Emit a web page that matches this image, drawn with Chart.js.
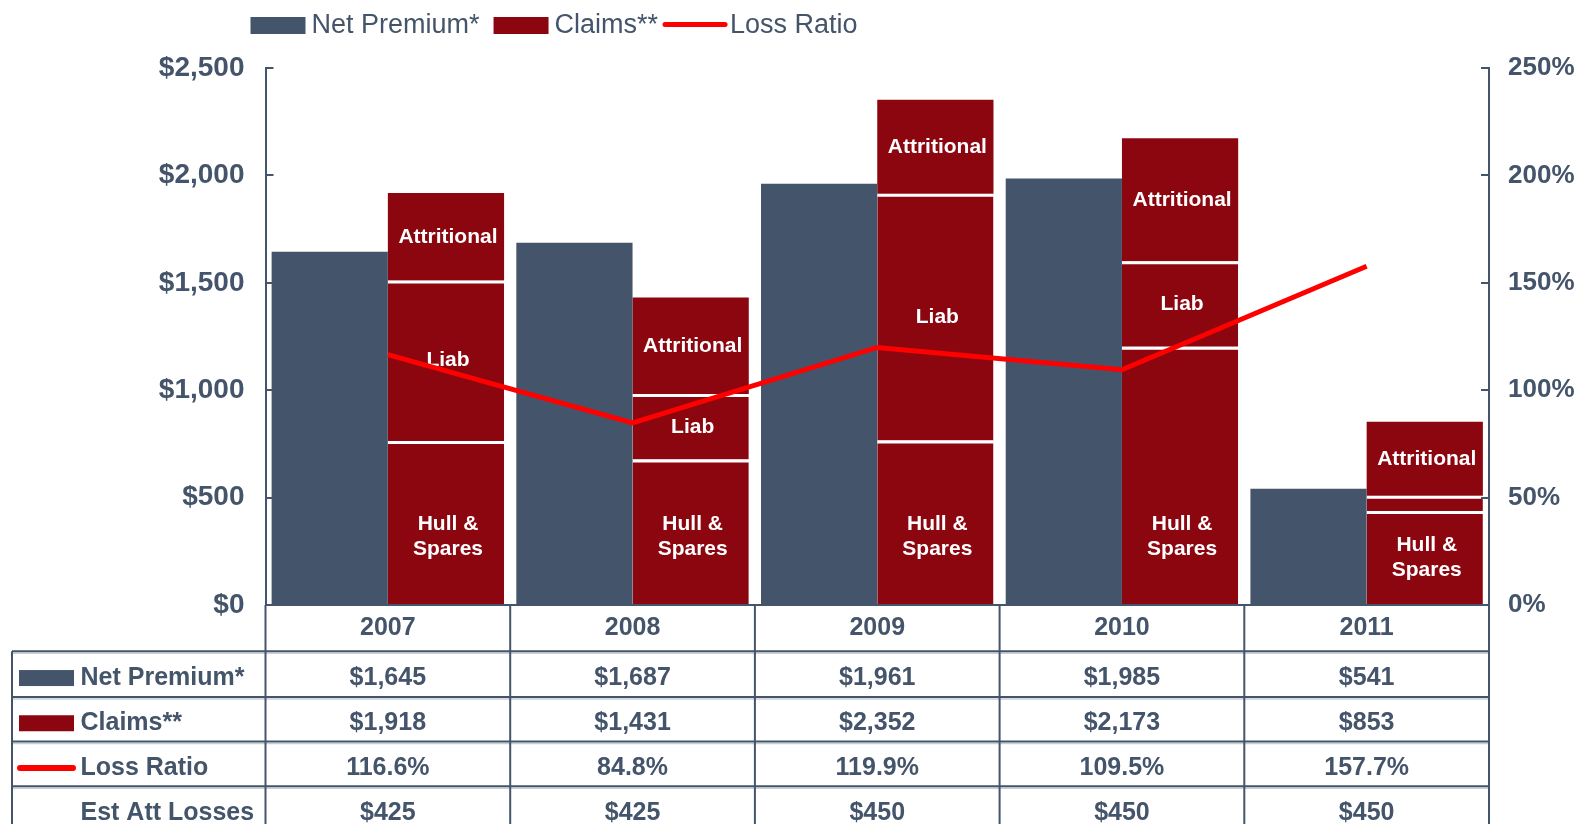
<!DOCTYPE html>
<html>
<head>
<meta charset="utf-8">
<script src="https://cdn.jsdelivr.net/npm/chart.js@4.4.1/dist/chart.umd.min.js"></script>
<style>
  html, body { margin: 0; padding: 0; background: #fff; }
  #wrap { position: relative; width: 1577px; height: 824px; }
</style>
</head>
<body>
<div id="wrap"><canvas id="lossChart"></canvas></div>
<script>
// Data
const years = ['2007', '2008', '2009', '2010', '2011'];
const netPremium = [1645, 1687, 1961, 1985, 541];
const claims = [1918, 1431, 2352, 2173, 853];
const hullSpares = [764, 677, 766, 1202, 438];
const liab = [747, 305, 1148, 398, 71];
const attritional = [407, 449, 438, 573, 344];
const lossRatio = [116.6, 84.8, 119.9, 109.5, 157.7];
const estAttLosses = [425, 425, 450, 450, 450];

const slate = '#44546A';
const claimRed = '#8C0610';
const lineRed = '#FF0000';
const fontFamily = '"Liberation Sans", Arial, sans-serif';

const money = v => '$' + v.toLocaleString('en-US');

// labels inside claims bars, table and legend
const extras = {
    id: 'extras',
    beforeDatasetDraw(chart, args) {
        if (args.meta.type !== 'line') return;
        const ctx = chart.ctx;
        ctx.save();
        ctx.fillStyle = '#fff';
        ctx.font = 'bold 21px ' + fontFamily;
        ctx.textAlign = 'center';
        ctx.textBaseline = 'middle';
        chart.data.datasets.forEach((ds, di) => {
            if (!ds.segLabel) return;
            chart.getDatasetMeta(di).data.forEach(bar => {
                const p = bar.getProps(['x', 'y', 'base'], true);
                const h = p.base - p.y;
                if (h < 30) return;
                const lines = ds.segLabel.split('\n');
                const cy = lines.length > 1 ? p.base - Math.min(68, h / 2) : (p.y + p.base) / 2;
                lines.forEach((t, i) => {
                    ctx.fillText(t, p.x + 2, cy + (i - (lines.length - 1) / 2) * 25);
                });
            });
        });
        ctx.restore();
    },
    afterDraw(chart) {
        const ctx = chart.ctx;
        const ca = chart.chartArea;
        const xs = chart.scales.x;
        const colW = (ca.right - ca.left) / years.length;
        ctx.save();

        // inward tick marks
        ctx.strokeStyle = slate;
        ctx.lineWidth = 2;
        chart.scales.y.ticks.forEach(t => {
            const py = Math.round(chart.scales.y.getPixelForValue(t.value));
            ctx.beginPath(); ctx.moveTo(ca.left, py); ctx.lineTo(ca.left + 8, py); ctx.stroke();
        });
        chart.scales.y1.ticks.forEach(t => {
            const py = Math.round(chart.scales.y1.getPixelForValue(t.value));
            ctx.beginPath(); ctx.moveTo(ca.right - 8, py); ctx.lineTo(ca.right, py); ctx.stroke();
        });

        // legend
        ctx.font = '27px ' + fontFamily;
        ctx.textBaseline = 'middle';
        ctx.textAlign = 'left';
        let lx = 250.5;
        const ly = 26;
        [['Net Premium*', 'box', slate], ['Claims**', 'box', claimRed], ['Loss Ratio', 'line', lineRed]].forEach(item => {
            if (item[1] === 'box') {
                ctx.fillStyle = item[2];
                ctx.fillRect(lx, 17, 55, 17);
                lx += 61;
            } else {
                lx -= 10;
                ctx.strokeStyle = item[2];
                ctx.lineWidth = 5;
                ctx.lineCap = 'round';
                ctx.beginPath(); ctx.moveTo(lx + 3, 24.5); ctx.lineTo(lx + 63, 24.5); ctx.stroke();
                lx += 68;
            }
            ctx.fillStyle = slate;
            ctx.fillText(item[0], lx, ly);
            lx += ctx.measureText(item[0]).width + 14;
        });

        // table
        const top = ca.bottom;
        const rowH = 45.2;
        const tableLeft = 12;
        const bottom = 830;
        const rowTops = [top, top + rowH + 1, top + 2 * rowH + 1.5, top + 3 * rowH + 1, top + 4 * rowH + 0.5];

        ctx.lineCap = 'butt';
        // shadow lines
        ctx.strokeStyle = '#C8CDD6';
        ctx.lineWidth = 1.5;
        rowTops.slice(1).forEach(ry => {
            ctx.beginPath(); ctx.moveTo(tableLeft, ry + 2); ctx.lineTo(ca.right, ry + 2); ctx.stroke();
        });
        ctx.strokeStyle = slate;
        ctx.lineWidth = 2;
        rowTops.forEach((ry, i) => {
            ctx.beginPath();
            ctx.moveTo(i === 0 ? ca.left : tableLeft, ry);
            ctx.lineTo(ca.right, ry);
            ctx.stroke();
        });
        ctx.beginPath(); ctx.moveTo(tableLeft, rowTops[1]); ctx.lineTo(tableLeft, bottom); ctx.stroke();
        for (let k = 0; k <= years.length; k++) {
            const vx = ca.left + k * colW;
            ctx.beginPath(); ctx.moveTo(vx, top); ctx.lineTo(vx, bottom); ctx.stroke();
        }

        const rows = [
            years,
            netPremium.map(money),
            claims.map(money),
            lossRatio.map(v => v.toFixed(1) + '%'),
            estAttLosses.map(money)
        ];
        ctx.font = 'bold 25px ' + fontFamily;
        ctx.fillStyle = slate;
        ctx.textAlign = 'center';
        rows.forEach((row, r) => {
            const cy = (rowTops[r] + (rowTops[r + 1] || rowTops[r] + rowH)) / 2 + (r === 0 ? 0 : 4);
            row.forEach((txt, i) => ctx.fillText(txt, xs.getPixelForValue(i), cy));
        });

        // row headers
        const heads = [['Net Premium*', 'box', slate], ['Claims**', 'box', claimRed], ['Loss Ratio', 'line', lineRed], ['Est Att Losses', null]];
        ctx.textAlign = 'left';
        heads.forEach((hd, r) => {
            const cy = (rowTops[r + 1] + (rowTops[r + 2] || rowTops[r + 1] + rowH)) / 2 + 4;
            if (hd[1] === 'box') {
                ctx.fillStyle = hd[2];
                ctx.fillRect(19, cy - 8, 55, 16);
            } else if (hd[1] === 'line') {
                ctx.strokeStyle = hd[2];
                ctx.lineWidth = 6;
                ctx.lineCap = 'round';
                ctx.beginPath(); ctx.moveTo(20, cy); ctx.lineTo(73, cy); ctx.stroke();
            }
            ctx.fillStyle = slate;
            ctx.fillText(hd[0], 80.5, cy);
        });
        ctx.restore();
    }
};

const ctx = document.getElementById('lossChart');

new Chart(ctx, {
    type: 'bar',
    data: {
        labels: years,
        datasets: [
            {
                label: 'Net Premium*',
                data: netPremium,
                backgroundColor: slate,
                stack: 'premium',
                order: 1
            },
            {
                label: 'Hull & Spares',
                segLabel: 'Hull &\nSpares',
                data: hullSpares,
                backgroundColor: claimRed,
                borderColor: '#fff',
                borderWidth: {top: 3, left: 0, right: 0, bottom: 0},
                borderSkipped: false,
                stack: 'claims',
                order: 1
            },
            {
                label: 'Liab',
                segLabel: 'Liab',
                data: liab,
                backgroundColor: claimRed,
                borderColor: '#fff',
                borderWidth: {top: 3, left: 0, right: 0, bottom: 0},
                borderSkipped: false,
                stack: 'claims',
                order: 1
            },
            {
                label: 'Attritional',
                segLabel: 'Attritional',
                data: attritional,
                backgroundColor: claimRed,
                stack: 'claims',
                order: 1
            },
            {
                type: 'line',
                label: 'Loss Ratio',
                data: lossRatio,
                yAxisID: 'y1',
                borderColor: lineRed,
                borderWidth: 5,
                pointRadius: 0,
                tension: 0,
                order: 0
            }
        ]
    },
    options: {
        responsive: true,
        maintainAspectRatio: false,
        animation: false,
        layout: {
            padding: {top: 68, bottom: 219, left: 0, right: 0}
        },
        datasets: {
            bar: {
                categoryPercentage: 0.95,
                barPercentage: 1.0
            }
        },
        plugins: {
            legend: {display: false},
            tooltip: {enabled: false}
        },
        scales: {
            x: {
                display: false,
                stacked: true
            },
            y: {
                position: 'left',
                stacked: true,
                min: 0,
                max: 2500,
                afterFit: s => { s.width = 265.5; },
                grid: {display: false, drawTicks: false},
                border: {display: true, color: slate, width: 2},
                ticks: {
                    stepSize: 500,
                    padding: 21,
                    color: slate,
                    font: {family: fontFamily, size: 28, weight: 'bold'},
                    callback: v => money(v)
                }
            },
            y1: {
                position: 'right',
                min: 0,
                max: 250,
                afterFit: s => { s.width = 88; },
                grid: {display: false, drawTicks: false},
                border: {display: true, color: slate, width: 2},
                ticks: {
                    stepSize: 50,
                    padding: 19,
                    color: slate,
                    font: {family: fontFamily, size: 26, weight: 'bold'},
                    callback: v => v + '%'
                }
            }
        }
    },
    plugins: [extras]
});
</script>
</body>
</html>
